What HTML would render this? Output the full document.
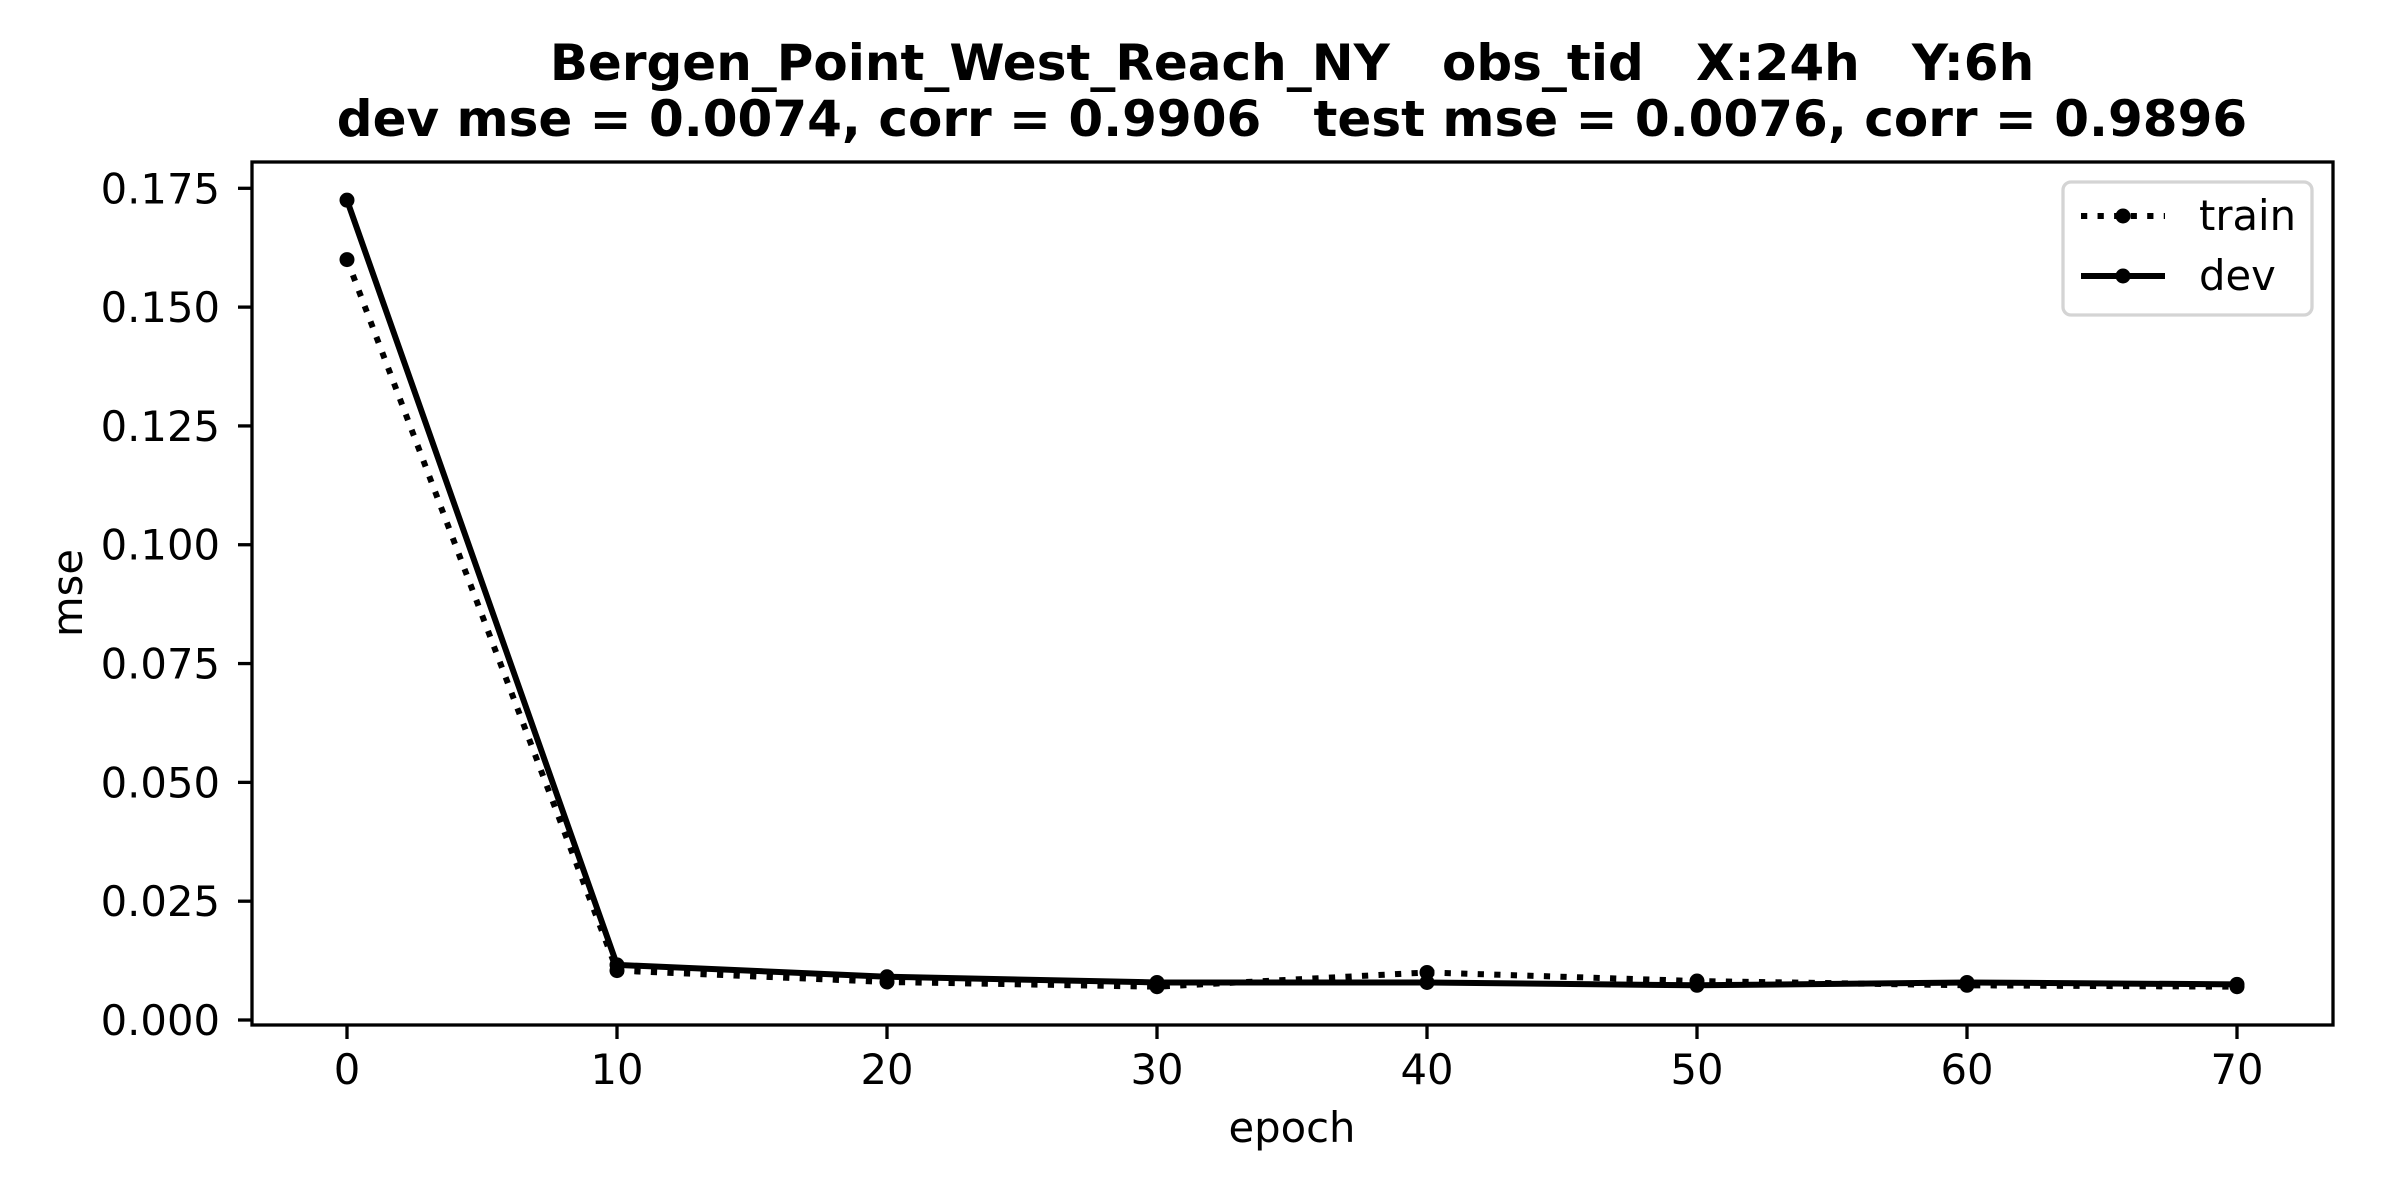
<!DOCTYPE html>
<html><head><meta charset="utf-8"><style>
html,body{margin:0;padding:0;background:#fff;}
svg{display:block;font-family:"DejaVu Sans","Liberation Sans",sans-serif;}
.pre{white-space:pre;}
</style></head><body>
<svg id="chart" width="2400" height="1200" viewBox="0 0 2400 1200" xmlns="http://www.w3.org/2000/svg">
<rect x="0" y="0" width="2400" height="1200" fill="#fff"/>
<text class="pre" x="1292" y="80" text-anchor="middle" font-size="50" font-weight="bold" xml:space="preserve">Bergen_Point_West_Reach_NY   obs_tid   X:24h   Y:6h</text>
<text class="pre" x="1292" y="136" text-anchor="middle" font-size="50" font-weight="bold" xml:space="preserve">dev mse = 0.0074, corr = 0.9906   test mse = 0.0076, corr = 0.9896</text>
<g id="plot"></g>
<rect x="252" y="162" width="2081" height="863" fill="none" stroke="#000" stroke-width="3.3"/>
<g>
<rect x="2063" y="182" width="249" height="133" rx="8" fill="#fff" fill-opacity="0.8" stroke="#d4d4d4" stroke-width="3.3"/>
<g>
<line x1="2081" y1="216" x2="2165" y2="216" stroke="#000" stroke-width="6" stroke-dasharray="6.25 10.3"/>
<circle cx="2123" cy="216" r="7.5" fill="#000"/>
<text x="2199" y="230" font-size="41.7">train</text>
</g>
<g>
<line x1="2081" y1="276" x2="2165" y2="276" stroke="#000" stroke-width="6"/>
<circle cx="2123" cy="276" r="7.5" fill="#000"/>
<text x="2199" y="290" font-size="41.7">dev</text>
</g>
</g>
<text x="1292" y="1142" text-anchor="middle" font-size="41.7">epoch</text>
<text x="0" y="0" transform="translate(82,593) rotate(-90)" text-anchor="middle" font-size="41.7">mse</text>
</svg>
<script>
const epochs = [0, 10, 20, 30, 40, 50, 60, 70];
const trainMse = [0.160, 0.0104, 0.0080, 0.0070, 0.0100, 0.0082, 0.0073, 0.0070];
const devMse = [0.1725, 0.0116, 0.0091, 0.0079, 0.0079, 0.0073, 0.0079, 0.0075];
const xTicks = [0, 10, 20, 30, 40, 50, 60, 70];
const yTicks = [0, 0.025, 0.05, 0.075, 0.1, 0.125, 0.15, 0.175];
const yTickLabels = ["0.000","0.025","0.050","0.075","0.100","0.125","0.150","0.175"];

const NS = "http://www.w3.org/2000/svg";
const svg = document.getElementById('chart');
const plot = document.getElementById('plot');
function xScale(v){ return 347 + (v - 0) * (2237 - 347) / 70; }
function yScale(v){ return 1020 - v * (1020 - 188.3) / 0.175; }
function mk(tag, attrs, parent){
  const e = document.createElementNS(NS, tag);
  for (const k in attrs) e.setAttribute(k, attrs[k]);
  (parent || svg).appendChild(e);
  return e;
}
xTicks.forEach((t) => {
  const x = xScale(t);
  const tk = mk('line', {x1:x, y1:1025, x2:x, y2:1039, stroke:'#000', 'stroke-width':3.3});
  
  
  const lb = mk('text', {x:x, y:1084, 'text-anchor':'middle', 'font-size':41.7});
  lb.textContent = String(t);
  
  
});
yTicks.forEach((t, i) => {
  const y = yScale(t);
  const tk = mk('line', {x1:238, y1:y, x2:252, y2:y, stroke:'#000', 'stroke-width':3.3});
  
  
  const lb = mk('text', {x:220, y:y + 15, 'text-anchor':'end', 'font-size':41.7});
  lb.textContent = yTickLabels[i];
  
  
});
function series(vals, name, dash){
  const pts = epochs.map((e, i) => xScale(e) + ',' + yScale(vals[i])).join(' ');
  const attrs = {points:pts, fill:'none', stroke:'#000', 'stroke-width':6, 'stroke-linejoin':'round'};
  if (dash) attrs['stroke-dasharray'] = dash;
  const pl = mk('polyline', attrs, plot);
  
  
  epochs.forEach((e, i) => {
    const c = mk('circle', {cx:xScale(e), cy:yScale(vals[i]), r:7.5, fill:'#000'}, plot);
    
    
  });
}
series(trainMse, 'train', '6.25 10.3');
series(devMse, 'dev', null);
</script>
</body></html>
